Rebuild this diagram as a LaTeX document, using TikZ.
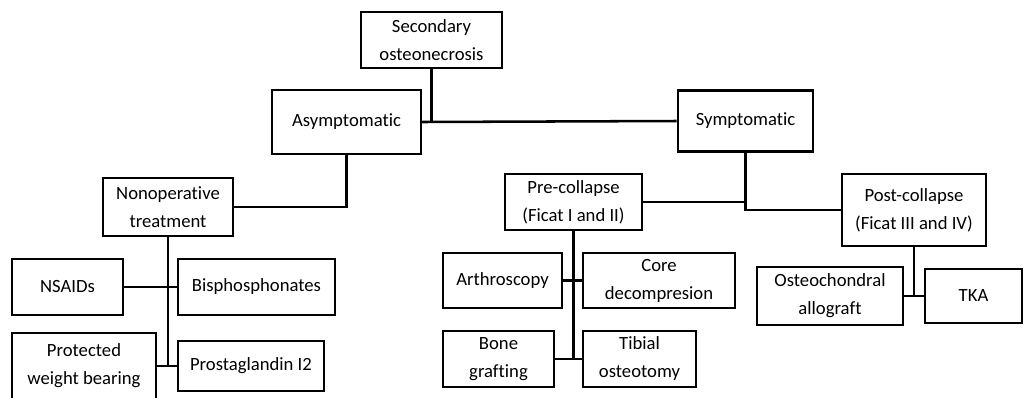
\documentclass[tikz,border=0pt]{standalone}
\usepackage{fontspec}
\setmainfont{Carlito}[Ligatures=NoCommon]

\begin{document}
\begin{tikzpicture}[x=0.75pt,y=-0.75pt,
  box/.style={draw, line width=1.9pt, align=center, inner sep=2pt,
    font=\fontsize{14}{21}\selectfont},
  link/.style={line width=1.9pt}]

\clip (0,0) rectangle (1024,397);

\node[box, minimum width=105.75pt, minimum height=42pt] (sec) at (431.5,40) {Secondary\\osteonecrosis};

\node[box, minimum width=111.75pt, minimum height=48pt] (asym) at (346.5,122) {Asymptomatic};
\node[box, minimum width=101.25pt, minimum height=45.75pt] (symp) at (745.5,121) {Symptomatic};

\node[box, minimum width=97.5pt, minimum height=43.5pt] (nonop) at (168,207) {Nonoperative\\treatment};
\node[box, minimum width=102.75pt, minimum height=42pt] (pre) at (573.5,202) {Pre-collapse\\(Ficat I and II)};
\node[box, minimum width=108pt, minimum height=54pt] (post) at (914,210) {Post-collapse\\(Ficat III and IV)};

\node[box, minimum width=83.25pt, minimum height=42pt] (nsaid) at (67.5,287) {NSAIDs};
\node[box, minimum width=117.75pt, minimum height=42pt] (bisph) at (256.5,287) {Bisphosphonates};
\node[box, minimum width=108pt, minimum height=49.5pt] (prot) at (84,366) {Protected\\weight bearing};
\node[box, minimum width=109.5pt, minimum height=37.5pt] (prost) at (251,366) {Prostaglandin I2};

\node[box, minimum width=89.25pt, minimum height=41.25pt] (arth) at (502.5,280.5) {Arthroscopy};
\node[box, minimum width=114pt, minimum height=41.25pt] (core) at (659,280.5) {Core\\decompresion};
\node[box, minimum width=83.25pt, minimum height=42pt] (bone) at (498.5,359) {Bone\\grafting};
\node[box, minimum width=84.75pt, minimum height=42pt] (tibial) at (639.5,359) {Tibial\\osteotomy};

\node[box, minimum width=109.5pt, minimum height=43.5pt] (osteo) at (830,296) {Osteochondral\\allograft};
\node[box, minimum width=72.75pt, minimum height=40.5pt] (tka) at (973.5,296) {TKA};

\draw[link] (sec.south) |- (asym.east);
\draw[link] (asym.east) -- (symp.west);

\draw[link] (asym.south) |- (nonop.east);
\draw[link] (symp.south) |- (pre.east);
\draw[link] (symp.south) |- (post.west);

\draw[link] (nonop.south) -- (nonop.south |- prost.west);
\draw[link] (nsaid.east) -- (bisph.west);
\draw[link] (prot.east) -- (prost.west);

\draw[link] (pre.south) -- (pre.south |- tibial.west);
\draw[link] (arth.east) -- (core.west);
\draw[link] (bone.east) -- (tibial.west);

\draw[link] (post.south) -- (post.south |- tka.west);
\draw[link] (osteo.east) -- (tka.west);

\end{tikzpicture}
\end{document}
